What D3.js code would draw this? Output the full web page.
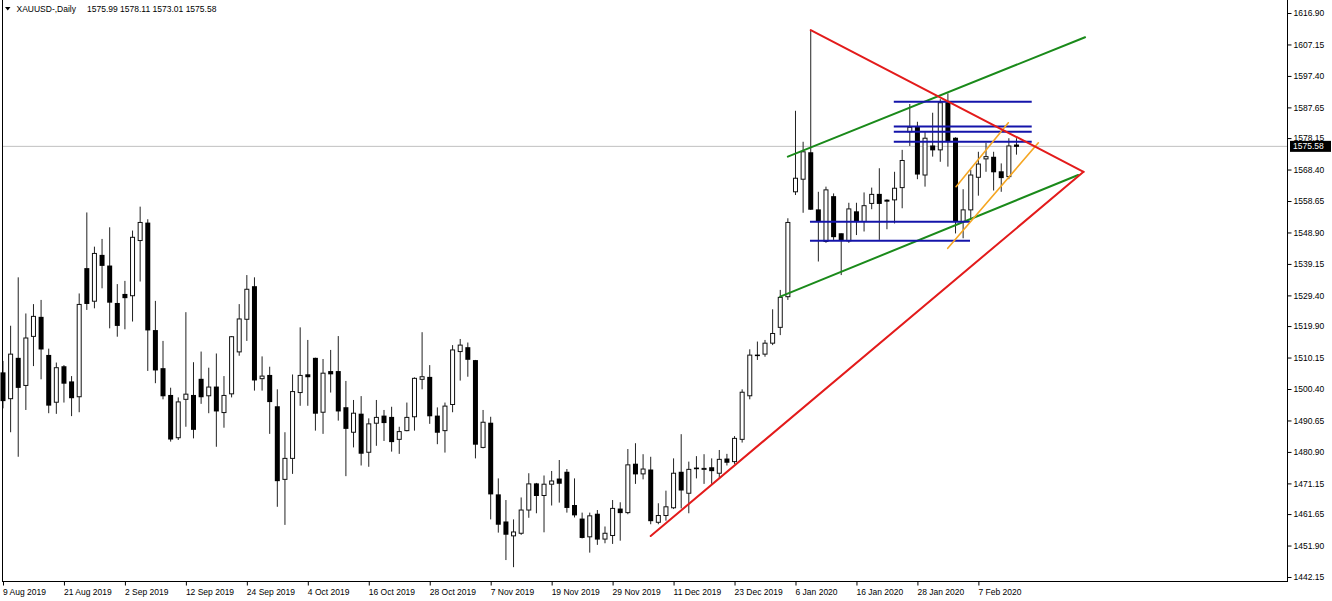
<!DOCTYPE html>
<html><head><meta charset="utf-8">
<script src="https://cdn.jsdelivr.net/npm/d3@7"></script>
<style>
body{margin:0;background:#fff}
svg{display:block}
text{font-family:"Liberation Sans",Arial,sans-serif;font-size:8.5px;fill:#000}
</style>
</head><body>
<svg id="c" width="1332" height="601"></svg>
<script>
// ---------- data ----------
const symbolTitle = "XAUUSD-,Daily";
const lastQuote = [1575.99, 1578.11, 1573.01, 1575.58]; // O H L C of current bar
const bidPrice = 1575.58;

const opens = [
1505.4,1497.4,1509.9,1501.5,1516.7,1522.6,1510.8,1496.3,1507.3,1502.6,
1498.0,1537.7,1527.6,1541.8,1538.5,1526.9,1529.7,1529.3,1546.4,1551.8,
1518.5,1506.7,1498.4,1485.3,1497.2,1498.4,1503.4,1498.3,1501.0,1493.1,
1498.9,1511.9,1522.0,1532.1,1503.6,1504.6,1494.9,1472.4,1478.9,1499.3,
1504.8,1509.9,1493.2,1505.8,1505.8,1494.6,1487.0,1492.6,1480.8,1489.8,
1492.0,1491.6,1484.8,1487.5,1491.8,1503.4,1504.0,1492.0,1487.5,1495.6,
1512.0,1513.2,1509.2,1482.3,1489.8,1467.6,1459.2,1454.9,1455.7,1462.9,
1471.0,1467.4,1470.9,1472.5,1474.6,1464.3,1460.1,1454.6,1461.6,1453.9,
1455.0,1463.2,1462.1,1477.1,1474.1,1475.3,1459.1,1461.2,1463.6,1474.6,
1468.1,1475.9,1475.7,1476.0,1474.3,1478.7,1477.9,1484.8,1498.3,1510.9,
1511.2,1514.6,1519.5,1529.0,1561.5,1565.4,1573.6,1555.9,1546.1,1560.0,
1548.5,1546.3,1555.3,1552.3,1557.9,1560.7,1558.9,1559.0,1562.8,1580.1,
1581.5,1566.7,1575.7,1574.5,1589.1,1578.1,1552.3,1555.9,1566.0,1571.7,
1572.2,1567.7,1566.2,1575.99];
const highs = [
1509.1,1520.0,1535.0,1523.8,1526.7,1528.0,1512.9,1508.6,1507.8,1504.4,
1530.0,1555.1,1544.5,1546.9,1550.5,1532.9,1533.9,1549.5,1556.9,1553.0,
1527.7,1515.3,1500.8,1497.8,1524.2,1508.7,1512.0,1507.0,1511.4,1504.4,
1516.8,1526.7,1535.7,1535.0,1510.5,1507.3,1500.3,1487.0,1504.9,1519.5,
1515.6,1510.1,1509.7,1512.5,1516.8,1502.9,1497.0,1498.2,1491.3,1497.0,
1493.9,1494.9,1488.7,1496.2,1504.0,1518.0,1507.8,1494.7,1496.2,1514.0,
1515.9,1514.8,1509.4,1493.9,1491.8,1472.7,1466.0,1460.0,1466.8,1474.3,
1471.3,1473.6,1475.0,1478.4,1475.6,1472.7,1462.1,1462.1,1462.9,1457.8,
1466.0,1465.3,1481.8,1483.6,1480.2,1479.4,1465.0,1468.9,1478.9,1486.4,
1477.9,1479.6,1480.2,1478.9,1481.5,1480.3,1485.8,1500.3,1512.7,1515.1,
1515.6,1525.1,1531.1,1553.3,1586.6,1577.0,1611.6,1561.5,1563.1,1561.0,
1548.6,1558.1,1558.1,1561.3,1562.8,1568.8,1559.2,1567.7,1574.5,1588.7,
1583.2,1580.1,1586.0,1590.2,1592.0,1578.4,1562.3,1568.3,1573.9,1576.7,
1573.9,1570.3,1578.1,1578.11];
const lows = [
1494.4,1487.0,1479.4,1493.9,1507.5,1503.4,1492.9,1492.7,1496.2,1492.0,
1493.2,1524.9,1525.4,1531.6,1519.2,1516.6,1518.9,1521.3,1533.7,1506.0,
1502.2,1497.2,1484.1,1484.6,1488.7,1485.1,1495.8,1492.9,1482.5,1488.4,
1497.8,1510.7,1515.3,1499.9,1499.9,1486.5,1463.9,1458.3,1474.1,1495.2,
1495.2,1487.5,1486.5,1499.3,1490.6,1473.4,1482.3,1476.7,1476.3,1482.8,
1484.3,1481.0,1480.3,1487.3,1487.5,1500.3,1489.6,1483.3,1480.7,1493.2,
1503.0,1504.2,1478.9,1482.0,1460.0,1455.9,1447.4,1445.2,1455.2,1460.5,
1461.9,1456.0,1464.3,1465.2,1462.1,1460.6,1454.1,1449.7,1452.1,1452.6,
1452.4,1453.4,1461.6,1471.0,1472.4,1458.5,1458.5,1459.6,1463.2,1463.4,
1461.9,1472.7,1471.0,1471.0,1472.7,1476.7,1477.2,1483.8,1497.2,1509.4,
1510.4,1514.0,1517.1,1528.0,1560.5,1555.0,1555.9,1539.9,1545.7,1546.6,
1535.7,1545.7,1548.1,1549.2,1556.1,1546.6,1549.9,1551.7,1556.4,1575.7,
1565.4,1563.1,1572.4,1570.8,1569.3,1548.6,1547.1,1552.8,1560.3,1567.7,
1561.9,1561.5,1565.4,1573.01];
const closes = [
1496.8,1511.2,1500.9,1516.2,1522.9,1512.8,1495.4,1507.0,1502.2,1497.7,
1526.6,1526.9,1542.4,1538.7,1527.3,1520.1,1528.7,1547.4,1552.0,1518.7,
1506.3,1498.3,1484.9,1496.4,1498.8,1487.9,1498.0,1501.0,1493.6,1498.4,
1516.6,1522.1,1531.3,1503.2,1504.4,1496.5,1472.0,1478.9,1499.6,1504.6,
1504.2,1492.9,1505.3,1505.1,1493.6,1488.2,1492.9,1480.5,1489.6,1491.6,
1490.0,1484.1,1487.2,1491.6,1503.7,1504.2,1492.1,1487.0,1495.1,1512.5,
1514.0,1509.6,1483.3,1490.1,1467.9,1458.5,1455.4,1456.1,1462.9,1471.0,
1467.4,1470.9,1471.9,1471.2,1463.7,1461.4,1454.4,1461.1,1453.9,1455.7,
1463.4,1462.1,1476.9,1474.1,1475.6,1459.6,1461.2,1463.9,1474.3,1469.1,
1475.5,1475.7,1475.8,1475.1,1478.6,1477.7,1485.1,1499.4,1510.9,1510.8,
1514.6,1517.6,1528.8,1552.0,1565.7,1573.9,1556.1,1552.6,1562.1,1547.6,
1546.6,1556.2,1552.6,1557.2,1560.7,1557.9,1558.6,1562.6,1571.2,1581.5,
1567.0,1578.1,1574.5,1589.1,1577.3,1552.3,1555.9,1566.7,1570.1,1572.4,
1567.7,1565.9,1575.7,1575.58];

// x axis: a date label every 8 bars, starting at bar 0
const xTickLabels = ["9 Aug 2019","21 Aug 2019","2 Sep 2019","12 Sep 2019","24 Sep 2019",
  "4 Oct 2019","16 Oct 2019","28 Oct 2019","7 Nov 2019","19 Nov 2019","29 Nov 2019",
  "11 Dec 2019","23 Dec 2019","6 Jan 2020","16 Jan 2020","28 Jan 2020","7 Feb 2020"];
const xTickBars = [0,8,16,24,32,40,48,56,64,72,80,88,96,104,112,120,128];
const yTickLabels = ["1616.90","1607.15","1597.40","1587.65","1578.15","1568.40","1558.65",
  "1548.90","1539.15","1529.40","1519.90","1510.15","1500.40","1490.65","1480.90","1471.15",
  "1461.65","1451.90","1442.15"];

// drawn objects, in (bar index, price)
const redLines = [[[106.0,1611.6],[141.8,1567.7]], [[85.0,1454.85],[141.8,1567.7]]];
const greenLines = [[[103.0,1572.4],[142.0,1609.4]], [[102.0,1529.0],[141.1,1566.7]]];
const orangeLines = [[[125.07,1563.1],[131.93,1582.9]], [[123.98,1544.0],[135.87,1576.7]]];
const blueLevels = [
  {from:116.9,to:135.0,price:1589.4},
  {from:116.9,to:135.0,price:1581.7},
  {from:116.9,to:135.0,price:1580.1},
  {from:116.9,to:135.0,price:1577.0},
  {from:105.9,to:126.9,price:1552.2},
  {from:105.9,to:126.9,price:1546.35}];

// ---------- chart ----------
const W = 1332, H = 601;
const plotL = 2, plotR = 1287, plotB = 581;
const svg = d3.select("#c");
svg.append("rect").attr("width",W).attr("height",H).attr("fill","#fff");

const x = d3.scaleLinear().domain([-0.13, 168.5]).range([plotL, plotR]);
const y = d3.scaleLinear().domain([1442.15, 1616.90]).range([577, 13]);

const bars = opens.map((o,i)=>({i, o, h:highs[i], l:lows[i], c:closes[i]}));

const plot = svg.append("g");
// bid line
plot.append("line").attr("x1",plotL).attr("x2",plotR)
  .attr("y1",y(bidPrice)).attr("y2",y(bidPrice))
  .attr("stroke","#c0c0c0").attr("stroke-width",1);

// candles
const cg = plot.append("g");
cg.selectAll("line.w").data(bars).join("line").attr("class","w")
  .attr("x1",d=>x(d.i)).attr("x2",d=>x(d.i))
  .attr("y1",d=>y(d.h)).attr("y2",d=>y(d.l))
  .attr("stroke","#222").attr("stroke-width",1);
cg.selectAll("rect.b").data(bars).join("rect").attr("class","b")
  .each(function(d){
    const up = d.c >= d.o;
    const top = y(Math.max(d.o,d.c)), bot = y(Math.min(d.o,d.c));
    const s = d3.select(this);
    if (up) {
      s.attr("x",x(d.i)-2).attr("width",4)
       .attr("y",top).attr("height",Math.max(bot-top,1))
       .attr("fill","#fff").attr("stroke","#111").attr("stroke-width",1);
    } else {
      s.attr("x",x(d.i)-2.5).attr("width",5)
       .attr("y",top-0.5).attr("height",Math.max(bot-top+1,1.5))
       .attr("fill","#000");
    }
  });

// objects
const og = plot.append("g").attr("fill","none");
function seg(arr, color, w){
  og.selectAll(null).data(arr).join("line")
    .attr("x1",d=>x(d[0][0])).attr("y1",d=>y(d[0][1]))
    .attr("x2",d=>x(d[1][0])).attr("y2",d=>y(d[1][1]))
    .attr("stroke",color).attr("stroke-width",w).attr("stroke-linecap","round");
}
seg(greenLines, "#1a8a1a", 2);
og.selectAll(null).data(blueLevels).join("line")
  .attr("x1",d=>x(d.from)).attr("x2",d=>x(d.to))
  .attr("y1",d=>y(d.price)).attr("y2",d=>y(d.price))
  .attr("stroke","#1414aa").attr("stroke-width",2);
seg(orangeLines, "#f5a623", 1.6);
seg(redLines, "#e31b1b", 2);

// frame
svg.append("line").attr("x1",plotL+0.5).attr("x2",plotL+0.5).attr("y1",0).attr("y2",plotB+0.5)
  .attr("stroke","#000");
svg.append("line").attr("x1",plotR+0.5).attr("x2",plotR+0.5).attr("y1",0).attr("y2",plotB+0.5)
  .attr("stroke","#000");
svg.append("line").attr("x1",plotL).attr("x2",plotR+1).attr("y1",plotB+0.5).attr("y2",plotB+0.5)
  .attr("stroke","#000");

// y axis
const yAxis = d3.axisRight(y)
  .tickValues(yTickLabels.map(Number))
  .tickFormat((d,i)=>yTickLabels[i])
  .tickSize(4).tickPadding(2);
const ya = svg.append("g").attr("transform",`translate(${plotR+0.5},0)`).call(yAxis);
ya.select(".domain").remove();
ya.selectAll("text").attr("font-family",null).attr("font-size",null).attr("fill","#000");
ya.selectAll("line").attr("stroke","#000");

// x axis
const xAxis = d3.axisBottom(x)
  .tickValues(xTickBars)
  .tickFormat((d,i)=>xTickLabels[i])
  .tickSize(4).tickPadding(3);
const xa = svg.append("g").attr("transform",`translate(0,${plotB+0.5})`).call(xAxis);
xa.select(".domain").remove();
xa.selectAll("text").attr("font-family",null).attr("font-size",null)
  .attr("text-anchor","start").attr("x",-0.5).attr("fill","#000");
xa.selectAll("line").attr("stroke","#000");

// current price tag
const py = y(bidPrice);
svg.append("rect").attr("x",plotR+3).attr("y",py-5.5).attr("width",41).attr("height",11).attr("fill","#000");
svg.append("text").attr("x",plotR+6).attr("y",py).attr("dy","0.34em")
  .style("fill","#fff").text(d3.format(".2f")(bidPrice));

// header
svg.append("path").attr("d","M5,7 L10.5,7 L7.75,10.5 Z").attr("fill","#000");
const ht = svg.append("text").attr("x",16.5).attr("y",12.3);
ht.append("tspan").text(symbolTitle);
ht.append("tspan").attr("x",87).text(lastQuote.map(d3.format(".2f")).join(" "));
</script>
</body></html>
